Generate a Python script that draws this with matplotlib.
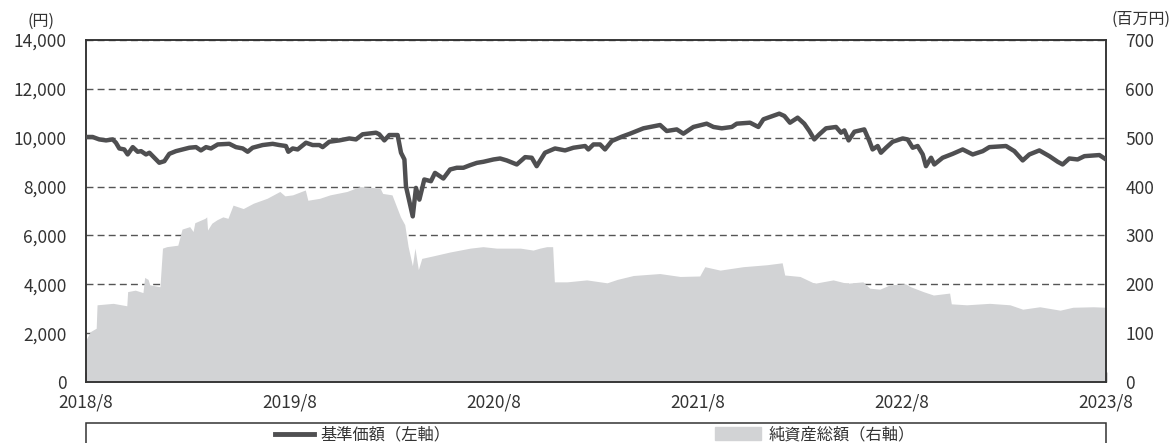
import matplotlib
matplotlib.use("Agg")
import matplotlib.pyplot as plt
from matplotlib.lines import Line2D
from matplotlib.patches import Patch, Rectangle

plt.rcParams['font.family'] = ['Noto Sans CJK JP', 'DejaVu Sans']

# months counted from 2018/8
nav_month = [0.00, 0.39, 0.78, 1.18, 1.57, 1.76, 1.96, 2.25, 2.45, 2.75, 3.04, 3.24, 3.53,
             3.73, 4.02, 4.31, 4.61, 4.90, 5.29, 5.69, 6.08, 6.47, 6.76, 7.06, 7.35, 7.75,
             8.43, 8.82, 9.22, 9.51, 9.80, 10.39, 10.98, 11.37, 11.76, 11.90, 12.16, 12.45,
             12.94, 13.33, 13.73, 13.92, 14.31, 14.90, 15.49, 15.88, 16.27, 17.06, 17.25,
             17.55, 17.84, 18.33, 18.53, 18.73, 18.82, 19.02, 19.22, 19.41, 19.61, 19.90,
             20.29, 20.53, 21.02, 21.42, 21.81, 22.20, 22.59, 22.99, 23.38, 23.97, 24.36,
             24.75, 25.34, 25.83, 26.22, 26.51, 27.00, 27.59, 28.18, 28.67, 29.36, 29.55,
             29.85, 30.24, 30.53, 30.93, 31.51, 32.00, 32.79, 33.77, 34.16, 34.75, 35.14,
             35.73, 36.51, 36.91, 37.40, 37.99, 38.28, 39.06, 39.55, 39.85, 40.24, 40.78,
             41.08, 41.41, 41.86, 42.25, 42.55, 42.84, 43.14, 43.53, 44.12, 44.41, 44.61,
             44.86, 45.20, 45.78, 46.08, 46.27, 46.57, 46.76, 47.06, 47.45, 48.04, 48.33,
             48.63, 48.92, 49.22, 49.41, 49.71, 49.90, 50.39, 50.98, 51.57, 52.16, 52.75,
             53.14, 54.12, 54.61, 55.10, 55.49, 56.08, 56.67, 57.16, 57.45, 57.84, 58.33,
             58.73, 59.61, 60.00]
nav = [10030, 10030, 9930, 9890, 9930, 9795, 9560, 9520, 9315, 9615, 9425, 9450, 9315,
       9385, 9180, 8975, 9040, 9340, 9450, 9520, 9590, 9615, 9480, 9615, 9560, 9725,
       9750, 9615, 9560, 9425, 9590, 9700, 9750, 9700, 9660, 9425, 9560, 9520,
       9795, 9700, 9700, 9615, 9835, 9890, 9970, 9930, 10140, 10205, 10140,
       9890, 10110, 10110, 9385, 9110, 8015, 7400, 6780, 7945, 7465, 8290,
       8220, 8560, 8330, 8700, 8770, 8770, 8875, 8970, 9015, 9110, 9150,
       9070, 8905, 9205, 9180, 8835, 9385, 9560, 9480, 9590, 9660, 9520,
       9725, 9725, 9520, 9865, 10040, 10165, 10385, 10520, 10275, 10340, 10165,
       10440, 10575, 10440, 10385, 10440, 10575, 10615, 10440, 10755, 10850, 10985,
       10890, 10615, 10820, 10575, 10275, 9930, 10140, 10385, 10440, 10205, 10300,
       9890, 10245, 10340, 9865, 9520, 9660, 9385, 9590, 9835, 9970, 9930,
       9590, 9660, 9315, 8835, 9180, 8905, 9180, 9340, 9520, 9315, 9450,
       9615, 9660, 9450, 9070, 9315, 9480, 9245, 9015, 8905, 9150, 9110,
       9245, 9290, 9110]

aum_month = [0.00, 0.25, 0.60, 0.65, 1.60, 2.40, 2.45, 2.90, 3.35, 3.45, 3.65, 3.75, 4.35,
             4.50, 4.75, 5.40, 5.65, 6.10, 6.30, 6.40, 7.00, 7.10, 7.15, 7.40, 7.70, 8.05,
             8.35, 8.65, 9.25, 9.85, 10.65, 11.40, 11.70, 12.15, 12.90, 13.05, 13.75,
             14.35, 15.35, 16.10, 17.30, 17.45, 18.00, 18.50, 18.75, 18.95, 19.20, 19.35,
             19.55, 19.75, 20.40, 21.40, 22.60, 23.35, 24.15, 25.55, 26.30, 26.70, 27.10,
             27.45, 27.55, 28.30, 29.45, 30.65, 31.25, 32.20, 33.75, 34.95, 36.10, 36.40,
             37.30, 38.65, 40.05, 40.95, 41.10, 42.00, 42.85, 43.95, 44.75, 45.70, 46.10,
             46.70, 47.30, 48.20, 48.50, 49.25, 49.85, 50.80, 50.90, 51.80, 53.15, 54.35,
             55.10, 56.10, 57.30, 58.05, 59.25, 60.00]
aum = [86, 103, 110, 158, 161, 156, 185, 188, 183, 214, 210, 199, 195,
       274, 277, 280, 313, 318, 308, 326, 335, 338, 311, 325, 332, 338,
       335, 362, 355, 366, 376, 390, 381, 383, 393, 372, 376,
       383, 390, 400, 397, 386, 383, 338, 322, 277, 238, 274,
       230, 253, 258, 266, 274, 277, 274, 274, 270, 274, 277,
       277, 205, 205, 209, 203, 210, 218, 222, 216, 217, 236,
       229, 236, 240, 244, 219, 216, 202, 209, 202, 205, 192,
       190, 199, 201, 195, 185, 178, 182, 160, 158, 161, 158,
       149, 154, 147, 153, 154, 153]

tick_pos = [0, 12, 24, 36, 48, 60]
tick_labels = ["2018/8", "2019/8", "2020/8", "2021/8", "2022/8", "2023/8"]

txt = '#333333'
line_col = '#4f4f51'
area_col = '#d2d3d5'

fig = plt.figure(figsize=(11.7, 4.43), dpi=100)
ax2 = fig.add_axes([86/1170, 1-382/443, 1020/1170, 342/443])
ax = ax2.twinx()
ax.yaxis.set_ticks_position('left')
ax.yaxis.set_label_position('left')
ax2.yaxis.set_ticks_position('right')

# right axis: area + grid underneath
ax2.set_axisbelow(True)
ax2.fill_between(aum_month, aum, 0, color=area_col, lw=0, zorder=1)
ax2.set_ylim(0, 700)
ax2.set_yticks(range(0, 701, 100))
ax2.grid(axis='y', linestyle=(0, (5, 3)), color='#555555', lw=1.0)
ax2.set_xlim(0, 60)
ax2.set_xticks(tick_pos)
ax2.set_xticklabels(tick_labels)
ax2.tick_params(axis='x', direction='in', length=7, width=1, color=txt, pad=8,
                labelsize=12.5, labelcolor=txt)
ax2.tick_params(axis='y', length=0, pad=14, labelsize=12.5, labelcolor=txt)

# left axis: price line on top
ax.plot(nav_month, nav, color=line_col, lw=3.2, solid_joinstyle='round', zorder=3)
ax.set_ylim(0, 14000)
ax.set_yticks(range(0, 14001, 2000))
ax.set_yticklabels([f"{v:,}" for v in range(0, 14001, 2000)])
ax.tick_params(axis='y', length=0, pad=14, labelsize=12.5, labelcolor=txt)
ax.set_xlim(0, 60)

for a in (ax, ax2):
    for s in a.spines.values():
        s.set_color(txt)
        s.set_linewidth(1.1)

fig.text(41/1170, 1-21/443, "(円)", ha='center', va='center', fontsize=11.5, color=txt)
fig.text(1141/1170, 1-19/443, "(百万円)", ha='center', va='center', fontsize=11.5, color=txt)

# legend frame runs off the bottom edge
fig.add_artist(Rectangle((86/1170, -0.1), 1020/1170, 0.1 + 1-423/443,
                         transform=fig.transFigure, fill=False, ec=txt, lw=1.1))
fig.legend(handles=[Line2D([], [], color=line_col, lw=3.5)], labels=["基準価額（左軸）"],
           loc='center left', bbox_to_anchor=(275/1170, 1-435/443), frameon=False,
           borderpad=0, borderaxespad=0, handlelength=2.4, handletextpad=0.4,
           fontsize=11.7, labelcolor=txt)
fig.legend(handles=[Patch(color=area_col)], labels=["純資産総額（右軸）"],
           loc='center left', bbox_to_anchor=(715/1170, 1-435/443), frameon=False,
           borderpad=0, borderaxespad=0, handlelength=2.8, handleheight=0.85,
           handletextpad=0.5, fontsize=11.7, labelcolor=txt)

fig.savefig('out.png', dpi=100)
